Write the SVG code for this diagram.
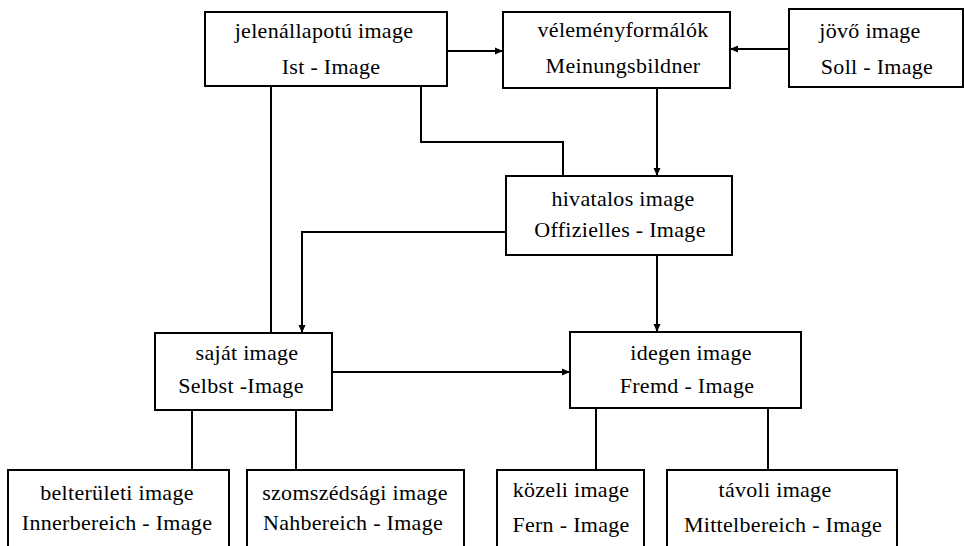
<svg xmlns="http://www.w3.org/2000/svg" width="964" height="546" viewBox="0 0 964 546">
<style>
.box{fill:#fff;stroke:#000;stroke-width:2}
.t{font-size:22px;letter-spacing:0.3px;fill:#000;text-anchor:middle}
.c{fill:none;stroke:#000;stroke-width:2}
</style>
<defs>
<marker id="ah" markerUnits="userSpaceOnUse" markerWidth="9" markerHeight="8" refX="8" refY="4" orient="auto">
<path d="M0,0.5 L8,4 L0,7.5 z" fill="#000"/>
</marker>
</defs>
<rect width="964" height="546" fill="#fff"/>
<g id="connectors">
<path class="c" d="M447,51 H503" marker-end="url(#ah)"/>
<path class="c" d="M789,49 H730" marker-end="url(#ah)"/>
<path class="c" d="M657,88 V176" marker-end="url(#ah)"/>
<path class="c" d="M421,86 V142 H563 V176"/>
<path class="c" d="M271,86 V333"/>
<path class="c" d="M506,232 H302 V333" marker-end="url(#ah)"/>
<path class="c" d="M657,255 V332" marker-end="url(#ah)"/>
<path class="c" d="M332,372 H570" marker-end="url(#ah)"/>
<path class="c" d="M192,410 V470"/>
<path class="c" d="M296,410 V470"/>
<path class="c" d="M596,408 V470"/>
<path class="c" d="M768,408 V470"/>
</g>
<g id="ist" font-family="Liberation Serif">
<rect class="box" x="205" y="12" width="242" height="74"/>
<text class="t" x="324" y="38">jelenállapotú image</text>
<text class="t" x="331" y="74">Ist -  Image</text>
</g>
<g id="meinung" font-family="Liberation Serif">
<rect class="box" x="503" y="12" width="227" height="76"/>
<text class="t" x="623" y="37">véleményformálók</text>
<text class="t" x="623" y="73">Meinungsbildner</text>
</g>
<g id="soll" font-family="Liberation Serif">
<rect class="box" x="789" y="9" width="174" height="78"/>
<text class="t" x="870" y="38">jövő image</text>
<text class="t" x="877" y="74">Soll - Image</text>
</g>
<g id="offiziell" font-family="Liberation Serif">
<rect class="box" x="506" y="176" width="226" height="79"/>
<text class="t" x="623" y="206">hivatalos image</text>
<text class="t" x="620" y="237">Offizielles - Image</text>
</g>
<g id="selbst" font-family="Liberation Serif">
<rect class="box" x="155" y="333" width="177" height="77"/>
<text class="t" x="247" y="360">saját image</text>
<text class="t" x="241" y="393">Selbst -Image</text>
</g>
<g id="fremd" font-family="Liberation Serif">
<rect class="box" x="570" y="332" width="231" height="76"/>
<text class="t" x="691" y="360">idegen image</text>
<text class="t" x="687" y="393">Fremd - Image</text>
</g>
<g id="inner" font-family="Liberation Serif">
<rect class="box" x="8" y="470" width="221" height="90"/>
<text class="t" x="117" y="500">belterületi image</text>
<text class="t" x="117" y="530">Innerbereich - Image</text>
</g>
<g id="nah" font-family="Liberation Serif">
<rect class="box" x="247" y="470" width="217" height="90"/>
<text class="t" x="355" y="500">szomszédsági image</text>
<text class="t" x="353" y="530">Nahbereich - Image</text>
</g>
<g id="fern" font-family="Liberation Serif">
<rect class="box" x="497" y="470" width="147" height="90"/>
<text class="t" x="571" y="497">közeli image</text>
<text class="t" x="571" y="532">Fern - Image</text>
</g>
<g id="mittel" font-family="Liberation Serif">
<rect class="box" x="667" y="470" width="230" height="90"/>
<text class="t" x="775" y="497">távoli image</text>
<text class="t" x="783" y="532">Mittelbereich - Image</text>
</g>
</svg>
